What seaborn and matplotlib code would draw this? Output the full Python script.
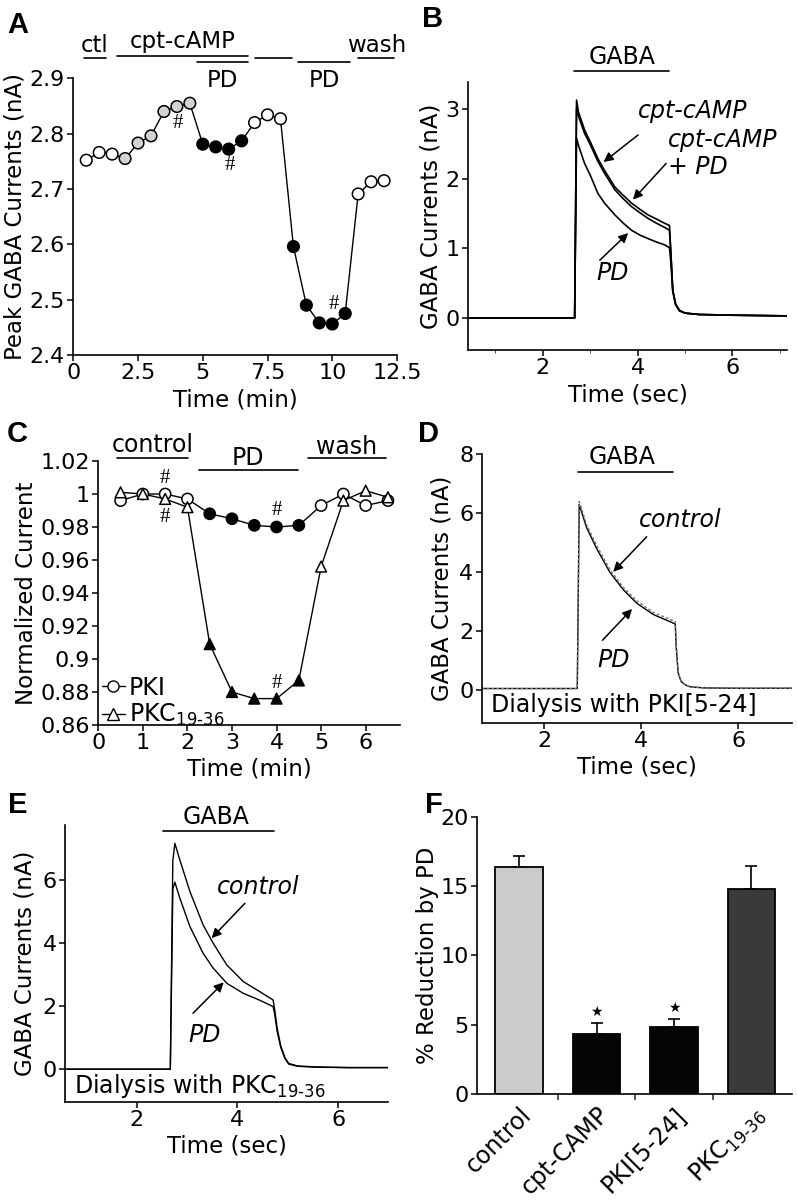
import matplotlib
matplotlib.use("Agg")
import matplotlib.pyplot as plt
from matplotlib.lines import Line2D
from matplotlib.ticker import FormatStrFormatter, FixedLocator
import seaborn as sns

# ---------------- values ----------------
# A: peak GABA currents, cpt-cAMP then PD
a_time = [0.5, 1.0, 1.5, 2.0, 2.5, 3.0, 3.5, 4.0, 4.5, 5.0, 5.5, 6.0,
          6.5, 7.0, 7.5, 8.0, 8.5, 9.0, 9.5, 10.0, 10.5, 11.0, 11.5, 12.0]
a_current = [2.752, 2.766, 2.763, 2.755, 2.783, 2.796, 2.840, 2.849, 2.855, 2.781, 2.776, 2.772,
             2.787, 2.820, 2.834, 2.827, 2.596, 2.490, 2.458, 2.456, 2.475, 2.691, 2.713, 2.715]
a_fill = ["open"] * 3 + ["cpt"] * 6 + ["pd"] * 4 + ["open"] * 3 + ["pd"] * 5 + ["open"] * 3
a_hash = [4.0, 6.0, 10.0]
a_periods = ["ctl", "cpt-cAMP", "PD", "", "PD", "wash"]
a_per_start = [0.4, 1.67, 4.76, 7.0, 8.66, 11.0]
a_per_end = [1.25, 6.75, 6.75, 8.43, 10.7, 12.4]

# B: GABA current traces (sec, nA)
b_time = [0.42, 2.67, 2.71, 2.75, 2.88, 3.0, 3.16, 3.3, 3.52, 3.7, 3.87, 4.05,
          4.22, 4.4, 4.57, 4.67, 4.70, 4.74, 4.80, 4.88, 5.0, 5.3, 6.0, 7.15]
b_cpt = [0.0, 0.0, 3.13, 2.96, 2.70, 2.53, 2.29, 2.12, 1.88, 1.76, 1.65, 1.56,
         1.48, 1.42, 1.36, 1.33, 0.95, 0.40, 0.20, 0.11, 0.07, 0.05, 0.04, 0.03]
b_cpt_pd = [0.0, 0.0, 3.02, 2.90, 2.65, 2.49, 2.25, 2.08, 1.84, 1.71, 1.60, 1.51,
            1.43, 1.36, 1.30, 1.26, 0.92, 0.40, 0.20, 0.11, 0.07, 0.05, 0.04, 0.03]
b_pd = [0.0, 0.0, 2.58, 2.48, 2.22, 2.05, 1.79, 1.65, 1.48, 1.36, 1.26, 1.19,
        1.14, 1.09, 1.05, 1.01, 0.80, 0.38, 0.19, 0.10, 0.07, 0.05, 0.04, 0.03]

# C: normalized current, PKI vs PKC19-36 dialysis
c_time = [0.5, 1.0, 1.5, 2.0, 2.5, 3.0, 3.5, 4.0, 4.5, 5.0, 5.5, 6.0, 6.5]
c_pki = [0.996, 1.000, 1.000, 0.997, 0.988, 0.985, 0.981, 0.980, 0.981, 0.993, 1.000, 0.993, 0.996]
c_pkc = [1.001, 1.000, 0.997, 0.992, 0.909, 0.880, 0.876, 0.876, 0.887, 0.956, 0.996, 1.002, 0.998]
c_fill = ["open"] * 4 + ["pd"] * 5 + ["open"] * 4
c_periods = ["control", "PD", "wash"]
c_per_start = [0.41, 2.26, 4.71]
c_per_end = [2.02, 4.47, 6.45]

# D: traces with PKI[5-24] in the pipette
d_time = [0.71, 2.68, 2.72, 2.87, 3.08, 3.35, 3.63, 3.91, 4.25, 4.59, 4.70,
          4.72, 4.76, 4.82, 4.9, 5.0, 5.3, 6.0, 7.1]
d_control = [0.05, 0.05, 6.40, 5.62, 4.90, 4.10, 3.48, 3.02, 2.63, 2.40, 2.32,
             1.50, 0.60, 0.30, 0.18, 0.11, 0.07, 0.06, 0.06]
d_pd = [0.05, 0.05, 6.30, 5.52, 4.80, 4.00, 3.40, 2.94, 2.56, 2.32, 2.24,
        1.45, 0.58, 0.29, 0.18, 0.11, 0.07, 0.06, 0.06]

# E: traces with PKC19-36 in the pipette
e_time = [0.58, 2.67, 2.72, 2.76, 2.86, 3.06, 3.32, 3.52, 3.79, 4.12, 4.45,
          4.71, 4.74, 4.79, 4.86, 4.94, 5.02, 5.2, 5.6, 6.2, 6.99]
e_control = [0.0, 0.0, 6.6, 7.15, 6.62, 5.62, 4.57, 3.99, 3.30, 2.77, 2.45,
             2.19, 1.9, 1.3, 0.75, 0.38, 0.18, 0.10, 0.07, 0.05, 0.05]
e_pd = [0.0, 0.0, 5.7, 5.92, 5.41, 4.51, 3.67, 3.20, 2.72, 2.40, 2.18,
        1.98, 1.75, 1.2, 0.70, 0.35, 0.16, 0.09, 0.06, 0.05, 0.05]

# F: % reduction by PD
PKC_LABEL = "PKC$_{19\u201036}$"
f_groups = ["control", "cpt-CAMP", "PKI[5-24]", PKC_LABEL]
f_values = [16.35, 4.3, 4.85, 14.8]
f_errors = [0.85, 0.8, 0.55, 1.65]
f_sig = ["", "\u2605", "\u2605", ""]
f_colors = ["#cbcbcb", "#050505", "#050505", "#3a3a3a"]

# ---------------- figure ----------------
sns.set_style("ticks")
plt.rcParams["font.family"] = ["DejaVu Sans"]
plt.rcParams["mathtext.default"] = "regular"
plt.rcParams["text.color"] = "black"
plt.rcParams["axes.labelcolor"] = "black"

W, H = 798, 1200
fig = plt.figure(figsize=(W / 100, H / 100), dpi=100)


def px_box(l, t, r, b):
    return [l / W, 1 - b / H, (r - l) / W, (b - t) / H]


def style(ax):
    sns.despine(ax=ax)
    ax.tick_params(direction="out", length=4, width=1.1, labelsize=16, pad=2, colors="black")
    for s in ["left", "bottom"]:
        ax.spines[s].set_linewidth(1.2)
        ax.spines[s].set_color("black")


def bar_line(ax, x0, x1, y):
    ax.plot([x0, x1], [y, y], color="black", lw=1.2, clip_on=False)


arrow = dict(arrowstyle="-|>", color="black", lw=1.1, mutation_scale=14, shrinkA=0, shrinkB=0)
fill_pal = {"open": "white", "cpt": "#d2d2d2", "pd": "black"}
hash_font = dict(fontsize=15, family="Liberation Serif", ha="center", va="center")

# ---- A ----
ax = fig.add_axes(px_box(73.3, 78.3, 397, 355))
sns.lineplot(x=a_time, y=a_current, color="black", lw=1, ax=ax, zorder=1)
sns.scatterplot(x=a_time, y=a_current, hue=a_fill, palette=fill_pal, edgecolor="black",
                linewidth=1.1, s=70, legend=False, ax=ax, zorder=3, clip_on=False)
ax.set_xlim(0, 12.5)
ax.set_ylim(2.4, 2.9)
ax.set_xticks([0, 2.5, 5, 7.5, 10, 12.5])
ax.xaxis.set_major_formatter(FormatStrFormatter("%g"))
ax.set_xlabel("Time (min)", fontsize=16.5, labelpad=4)
ax.set_ylabel("Peak GABA Currents (nA)", fontsize=16.5, labelpad=2)
style(ax)
for t, v in zip(a_time, a_current):
    if t in a_hash:
        dy = 13.7 if v < 2.6 else -12
        ax.annotate("#", (t, v), xytext=(1, dy), textcoords="offset points", **hash_font)
line_y = {"ctl": 2.936, "cpt-cAMP": 2.940, "PD": 2.930, "": 2.936, "wash": 2.936}
for lab, x0, x1 in zip(a_periods, a_per_start, a_per_end):
    bar_line(ax, x0, x1, line_y[lab])
    if lab == "PD":
        ax.text((x0 + x1) / 2, 2.884, lab, ha="center", va="baseline", fontsize=16.5, clip_on=False)
    elif lab:
        ax.text((x0 + x1) / 2, 2.947 + (0.007 if lab == "cpt-cAMP" else 0), lab,
                ha="center", va="baseline", fontsize=16.5, clip_on=False)

# ---- B ----
ax = fig.add_axes(px_box(468, 82, 787, 350))
for y in [b_cpt, b_cpt_pd, b_pd]:
    sns.lineplot(x=b_time, y=y, color="black", lw=1.2, ax=ax, sort=False)
ax.set_xlim(0.42, 7.15)
ax.set_ylim(-0.46, 3.39)
ax.set_xticks([2, 4, 6])
ax.set_yticks([0, 1, 2, 3])
ax.xaxis.set_minor_locator(FixedLocator([1, 3, 5, 7]))
ax.tick_params(which="minor", length=2.5, direction="out")
ax.set_xlabel("Time (sec)", fontsize=16.5, labelpad=4)
ax.set_ylabel("GABA Currents (nA)", fontsize=16.5, labelpad=2)
style(ax)
bar_line(ax, 2.65, 4.65, 3.55)
ax.text(3.66, 3.75, "GABA", ha="center", va="center", fontsize=17, clip_on=False)
ax.text(5.16, 2.98, "cpt-cAMP", style="italic", ha="center", va="center", fontsize=17)
ax.annotate("", xy=(3.28, 2.24), xytext=(4.01, 2.63), arrowprops=arrow)
ax.text(5.79, 2.55, "cpt-cAMP", style="italic", ha="center", va="center", fontsize=17)
ax.text(5.26, 2.17, "+ PD", style="italic", ha="center", va="center", fontsize=17)
ax.annotate("", xy=(3.90, 1.70), xytext=(4.60, 2.22), arrowprops=arrow)
ax.text(3.47, 0.65, "PD", style="italic", ha="center", va="center", fontsize=17)
ax.annotate("", xy=(3.80, 1.22), xytext=(3.20, 0.83), arrowprops=arrow)

# ---- C ----
ax = fig.add_axes(px_box(98.3, 461, 400, 725))
sns.lineplot(x=c_time, y=c_pki, color="black", lw=1, ax=ax, zorder=1)
sns.lineplot(x=c_time, y=c_pkc, color="black", lw=1, ax=ax, zorder=1)
sns.scatterplot(x=c_time, y=c_pki, hue=c_fill, palette=fill_pal, marker="o", edgecolor="black",
                linewidth=1.1, s=65, legend=False, ax=ax, zorder=3, clip_on=False)
sns.scatterplot(x=c_time, y=c_pkc, hue=c_fill, palette=fill_pal, marker="^", edgecolor="black",
                linewidth=1.1, s=60, legend=False, ax=ax, zorder=3, clip_on=False)
ax.set_xlim(0, 6.77)
ax.set_ylim(0.86, 1.02)
ax.set_xticks(range(0, 7))
ax.set_yticks([0.86, 0.88, 0.90, 0.92, 0.94, 0.96, 0.98, 1.00, 1.02])
ax.yaxis.set_major_formatter(FormatStrFormatter("%g"))
ax.set_xlabel("Time (min)", fontsize=16.5, labelpad=3)
ax.set_ylabel("Normalized Current", fontsize=16.5, labelpad=2)
style(ax)
ax.annotate("#", (1.5, c_pki[2]), xytext=(0, 11), textcoords="offset points", **hash_font)
ax.annotate("#", (1.5, c_pkc[2]), xytext=(0, -13), textcoords="offset points", **hash_font)
ax.annotate("#", (4.0, c_pki[7]), xytext=(0, 12), textcoords="offset points", **hash_font)
ax.annotate("#", (4.0, c_pkc[7]), xytext=(0, 11), textcoords="offset points", **hash_font)
per_y = {"control": (1.0216, 1.0297), "PD": (1.0145, 1.0218), "wash": (1.0216, 1.0287)}
for lab, x0, x1 in zip(c_periods, c_per_start, c_per_end):
    ly, ty = per_y[lab]
    bar_line(ax, x0, x1, ly)
    ax.text((x0 + x1) / 2, ty, lab, ha="center", va="center", fontsize=17, clip_on=False)
handles = [Line2D([0], [0], color="black", lw=1, marker="o", mfc="white", mec="black", ms=8),
           Line2D([0], [0], color="black", lw=1, marker="^", mfc="white", mec="black", ms=8)]
ax.legend(handles, ["PKI", PKC_LABEL], loc="lower left", bbox_to_anchor=(-0.005, -0.03),
          frameon=False, fontsize=17, handlelength=1.0, handletextpad=0.15,
          labelspacing=0.1, borderaxespad=0, borderpad=0.2)

# ---- D ----
ax = fig.add_axes(px_box(481.7, 454.3, 791.7, 722.7))
sns.lineplot(x=d_time, y=d_pd, color="black", lw=1.0, ax=ax, sort=False)
sns.lineplot(x=d_time, y=d_control, color="0.45", lw=1.0, ls=(0, (2, 1.5)), ax=ax, sort=False)
ax.set_xlim(0.71, 7.1)
ax.set_ylim(-1.11, 8)
ax.set_xticks([2, 4, 6])
ax.set_yticks([0, 2, 4, 6, 8])
ax.set_xlabel("Time (sec)", fontsize=16.5, labelpad=3)
ax.set_ylabel("GABA Currents (nA)", fontsize=16.5, labelpad=4)
style(ax)
bar_line(ax, 2.69, 4.66, 7.40)
ax.text(3.60, 7.91, "GABA", ha="center", va="center", fontsize=17, clip_on=False)
ax.text(4.80, 5.76, "control", style="italic", ha="center", va="center", fontsize=17)
ax.annotate("", xy=(3.42, 4.01), xytext=(4.11, 5.2), arrowprops=arrow)
ax.text(3.42, 1.02, "PD", style="italic", ha="center", va="center", fontsize=17)
ax.annotate("", xy=(3.81, 2.75), xytext=(3.20, 1.69), arrowprops=arrow)
ax.text(0.91, -0.51, "Dialysis with PKI[5-24]", ha="left", va="center", fontsize=17)

# ---- E ----
ax = fig.add_axes(px_box(65, 825, 388, 1101.7))
sns.lineplot(x=e_time, y=e_control, color="black", lw=1.0, ax=ax, sort=False)
sns.lineplot(x=e_time, y=e_pd, color="black", lw=1.0, ax=ax, sort=False)
ax.set_xlim(0.58, 6.99)
ax.set_ylim(-1.03, 7.73)
ax.set_xticks([2, 4, 6])
ax.set_yticks([0, 2, 4, 6])
ax.set_xlabel("Time (sec)", fontsize=16.5, labelpad=3)
ax.set_ylabel("GABA Currents (nA)", fontsize=16.5, labelpad=4)
style(ax)
bar_line(ax, 2.53, 4.73, 7.55)
ax.text(3.57, 7.99, "GABA", ha="center", va="center", fontsize=17, clip_on=False)
ax.text(4.41, 5.78, "control", style="italic", ha="center", va="center", fontsize=17)
ax.annotate("", xy=(3.49, 4.15), xytext=(4.15, 5.25), arrowprops=arrow)
ax.text(3.36, 1.09, "PD", style="italic", ha="center", va="center", fontsize=17)
ax.annotate("", xy=(3.73, 2.75), xytext=(3.12, 1.77), arrowprops=arrow)
ax.text(0.75, -0.53, "Dialysis with " + PKC_LABEL, ha="left", va="center", fontsize=17)

# ---- F ----
ax = fig.add_axes(px_box(477.3, 816.7, 791.7, 1094))
sns.barplot(x=f_groups, y=f_values, hue=f_groups, palette=f_colors, edgecolor="black",
            linewidth=1.3, width=0.61, legend=False, errorbar=None, ax=ax, zorder=2)
pos = list(range(len(f_groups)))
ax.errorbar(pos, f_values, yerr=[[0] * len(f_errors), f_errors], fmt="none",
            ecolor="black", elinewidth=1.2, capsize=4, capthick=1.2, zorder=1)
for i, (v, e, s) in enumerate(zip(f_values, f_errors, f_sig)):
    if s:
        ax.annotate(s, (i, v + e), xytext=(0, 3), textcoords="offset points",
                    ha="center", va="bottom", fontsize=10)
ax.set_xlim(-0.54, 3.52)
ax.set_ylim(0, 20)
ax.set_yticks([0, 5, 10, 15, 20])
ax.set_ylabel("% Reduction by PD", fontsize=16.5, labelpad=1)
style(ax)
ax.xaxis.set_minor_locator(FixedLocator([0.5, 1.5, 2.5]))
ax.tick_params(axis="x", which="major", length=0, pad=6)
ax.tick_params(axis="x", which="minor", length=4, width=1.1, direction="out")
ax.set_xticks(pos)
ax.set_xticklabels(f_groups, rotation=45, ha="right", rotation_mode="anchor", fontsize=17)

# ---- panel letters ----
for lab, x, y in [("A", 7, 33), ("B", 422, 27), ("C", 7, 442), ("D", 418, 442), ("E", 8, 813), ("F", 425, 813)]:
    fig.text(x / W, 1 - y / H, lab, fontsize=21, fontweight="bold", family="Liberation Sans",
             ha="left", va="baseline")

fig.savefig("out.png", dpi=100)
